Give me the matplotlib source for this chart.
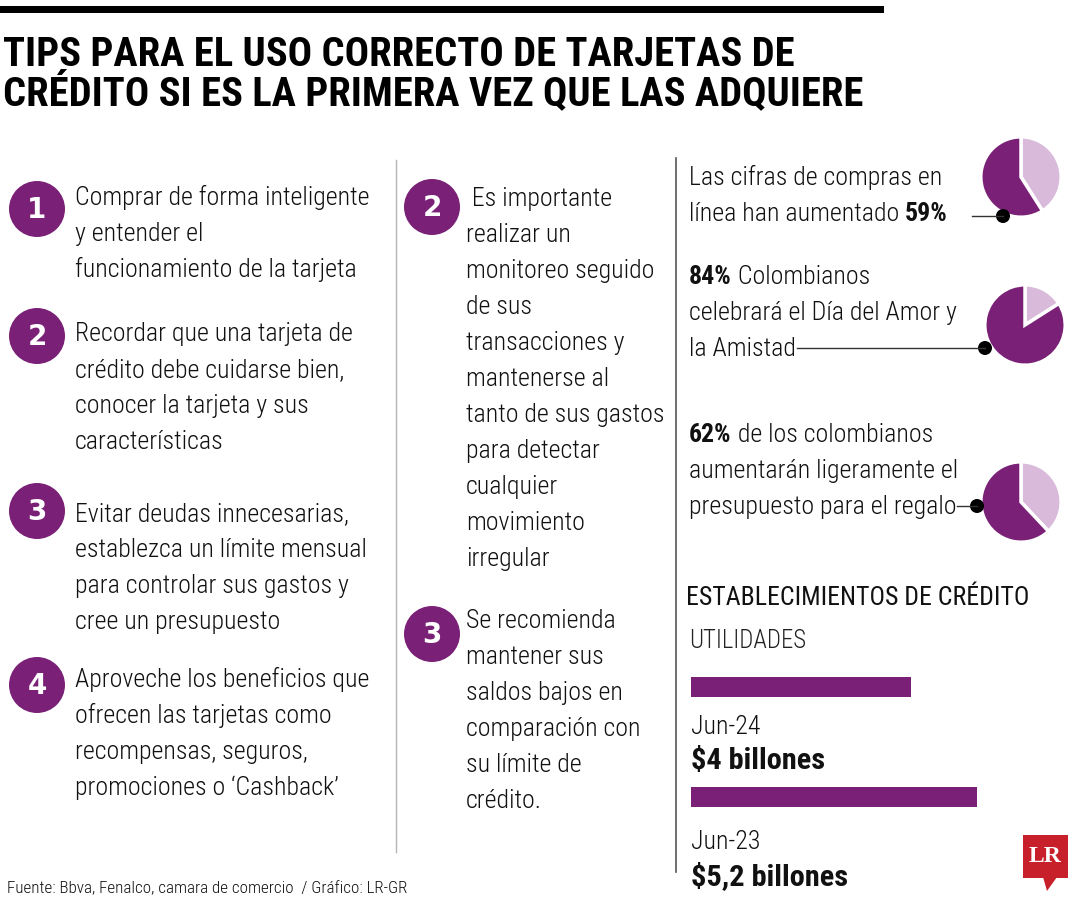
import matplotlib
matplotlib.use("Agg")
import matplotlib.pyplot as plt
from matplotlib import font_manager
from matplotlib.patches import Circle, Rectangle, Polygon

# colours
PURPLE = "#7a2177"
LILAC = "#d9badb"
INK = "#111111"

# pick a narrow face if one is there
names = {f.name for f in font_manager.fontManager.ttflist}
FONT = next((f for f in ["Liberation Sans Narrow", "Roboto Condensed", "Open Sans Condensed",
                         "Liberation Sans", "Roboto"] if f in names), "DejaVu Sans")
plt.rcParams["font.family"] = [FONT, "DejaVu Sans"]
LIGHT = "light"

# ---- data ----
title_lines = ["TIPS PARA EL USO CORRECTO DE TARJETAS DE",
               "CRÉDITO SI ES LA PRIMERA VEZ QUE LAS ADQUIERE"]

left_nums = [1, 2, 3, 4]
left_tips = [
    ["Comprar de forma inteligente", "y entender el", "funcionamiento de la tarjeta"],
    ["Recordar que una tarjeta de", "crédito debe cuidarse bien,", "conocer la tarjeta y sus",
     "características"],
    ["Evitar deudas innecesarias,", "establezca un límite mensual", "para controlar sus gastos y",
     "cree un presupuesto"],
    ["Aproveche los beneficios que", "ofrecen las tarjetas como", "recompensas, seguros,",
     "promociones o ‘Cashback’"],
]

mid_nums = [2, 3]
mid_tips = [
    [" Es importante", "realizar un", "monitoreo seguido", "de sus", "transacciones y",
     "mantenerse al", "tanto de sus gastos", "para detectar", "cualquier", "movimiento",
     "irregular"],
    ["Se recomienda", "mantener sus", "saldos bajos en", "comparación con", "su límite de",
     "crédito."],
]

pie_pct = [59, 84, 62]
pie_texts = [
    [[("Las cifras de compras en", False)],
     [("línea han aumentado ", False), (f"{pie_pct[0]}%", True)]],
    [[(f"{pie_pct[1]}%", True), (" Colombianos", False)],
     [("celebrará el Día del Amor y", False)],
     [("la Amistad", False)]],
    [[(f"{pie_pct[2]}%", True), (" de los colombianos", False)],
     [("aumentarán ligeramente el", False)],
     [("presupuesto para el regalo", False)]],
]

bar_title = "ESTABLECIMIENTOS DE CRÉDITO"
bar_sub = "UTILIDADES"
bar_labels = ["Jun-24", "Jun-23"]
bar_values = [4, 5.2]
bar_texts = ["$4 billones", "$5,2 billones"]

source = "Fuente: Bbva, Fenalco, camara de comercio  / Gráfico: LR-GR"

# ---- canvas in pixel units ----
W, H = 1080, 900
fig = plt.figure(figsize=(W / 100, H / 100), dpi=100)
ax = fig.add_axes([0, 0, 1, 1])
ax.set_xlim(0, W)
ax.set_ylim(H, 0)
ax.axis("off")
rend = fig.canvas.get_renderer()


def width_of(s, size, weight="normal"):
    t = ax.text(0, 0, s, fontsize=size, fontweight=weight)
    w = t.get_window_extent(rend).width
    t.remove()
    return w


def fit(s, target, weight="normal"):
    return 20 * target / width_of(s, 20, weight)


def write(x, y, segs, size, color=INK):
    for s, bold in segs:
        t = ax.text(x, y, s, fontsize=size, fontweight="bold" if bold else LIGHT,
                    va="baseline", ha="left", color=color)
        x += t.get_window_extent(rend).width


def badge(x, y, n):
    ax.add_patch(Circle((x, y), 28, color=PURPLE, lw=0))
    ax.text(x, y + 1, str(n), color="white", fontsize=20, fontweight="bold",
            ha="center", va="center", family=["DejaVu Sans"])


body = fit(left_tips[0][0], 293, LIGHT)
step = 36

# top rule and title
ax.add_patch(Rectangle((0, 6), 884, 7, color="black", lw=0))
tsize = min(fit(title_lines[0], 790, "bold"), fit(title_lines[1], 879, "bold"))
for s, y in zip(title_lines, [66, 105]):
    ax.text(3, y, s, fontsize=tsize, fontweight="bold", va="baseline", color="black")

# column rules
ax.plot([396, 396], [160, 852], color="#b5b5b5", lw=1)
ax.plot([676, 676], [158, 872], color="#555555", lw=1.2)

# left column
for n, lines, cy, y0 in zip(left_nums, left_tips, [209, 336, 511, 685], [205, 341, 521, 687]):
    badge(37, cy, n)
    for i, s in enumerate(lines):
        write(75, y0 + i * step, [(s, False)], body)

# middle column
for n, lines, cy, y0 in zip(mid_nums, mid_tips, [207, 634], [206, 628]):
    badge(432, cy, n)
    for i, s in enumerate(lines):
        write(466, y0 + i * step, [(s, False)], body)

# right column, stats with pies
pie_c = [(1021, 177), (1025, 325), (1021, 502)]
dots = [(1003, 216), (985, 348), (977, 506)]
leads = [972, 797, 957]
for lines, y0 in zip(pie_texts, [185, 284, 442]):
    for i, segs in enumerate(lines):
        write(689, y0 + i * step, segs, body)

r = 41
for p, (cx, cy) in zip(pie_pct, pie_c):
    pa = fig.add_axes([(cx - r) / W, 1 - (cy + r) / H, 2 * r / W, 2 * r / H])
    pa.pie([100 - p, p], colors=[LILAC, PURPLE], startangle=90, counterclock=False,
           wedgeprops=dict(edgecolor="white", linewidth=2.5))
    pa.set_xlim(-1.02, 1.02)
    pa.set_ylim(-1.02, 1.02)
    pa.patch.set_visible(False)
    pa.axis("off")

# leader lines and dots go on top of the pies
top_ax = fig.add_axes([0, 0, 1, 1])
top_ax.set_xlim(0, W)
top_ax.set_ylim(H, 0)
top_ax.axis("off")
top_ax.patch.set_visible(False)
for (dx, dy), lx in zip(dots, leads):
    top_ax.plot([lx, dx], [dy, dy], color="#333333", lw=1)
    top_ax.add_patch(Circle((dx, dy), 7, color="black", lw=0))

# bars
ax.text(686, 605, bar_title, fontsize=fit(bar_title, 341), va="baseline", color=INK)
ax.text(689, 648, bar_sub, fontsize=fit(bar_sub, 117, LIGHT), fontweight=LIGHT,
        va="baseline", color="#222222")

gap = 109.5
top = 687 - gap / 2
bot = 796.5 + gap / 2
scale = 55  # px per unit
ba = fig.add_axes([691 / W, 1 - bot / H, 6 * scale / W, (bot - top) / H])
ba.patch.set_visible(False)
ba.barh(range(len(bar_values)), bar_values, height=20 / gap, color=PURPLE)
ba.set_xlim(0, 6)
ba.set_ylim(len(bar_values) - 0.5, -0.5)
ba.axis("off")

bsize = fit(bar_texts[1], 157, "bold")
for i, (lab, txt) in enumerate(zip(bar_labels, bar_texts)):
    ax.text(691, 734 + i * 115, lab, fontsize=body, fontweight=LIGHT, va="baseline", color=INK)
    ax.text(691, 769 + i * 116, txt, fontsize=bsize, fontweight="bold", va="baseline", color=INK)

# source line
ax.text(7, 893, source, fontsize=fit(source, 400, LIGHT), fontweight=LIGHT,
        va="baseline", color=INK)

# LR mark
ax.add_patch(Rectangle((1023, 835), 45, 43, color="#c8202b", lw=0))
ax.add_patch(Polygon([(1043, 877), (1047, 891), (1057, 877)], color="#c8202b", lw=0))
ax.text(1045.5, 857, "LR", color="white", fontsize=17, fontweight="bold",
        ha="center", va="center", family=["Liberation Serif", "DejaVu Serif"])

fig.savefig("out.png", dpi=100)
